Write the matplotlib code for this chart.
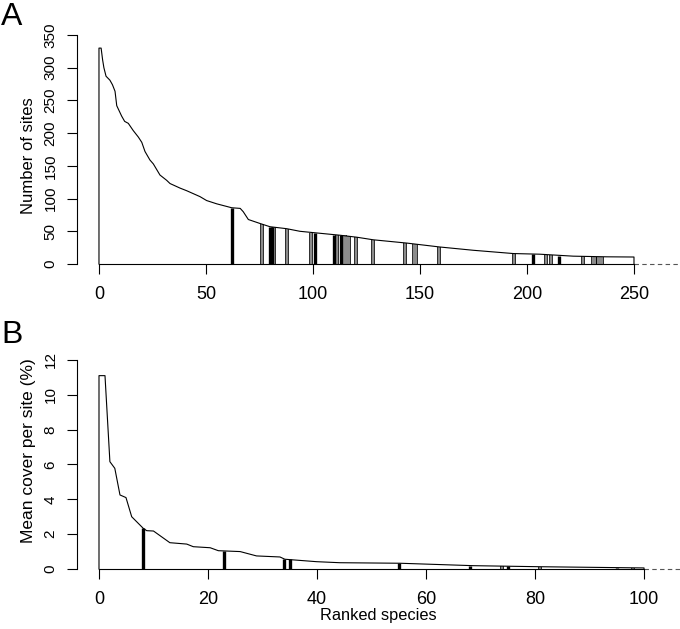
import numpy as np
import matplotlib
matplotlib.use("Agg")
import matplotlib.pyplot as plt

plt.rcParams['font.family'] = ['Liberation Sans', 'DejaVu Sans']

# panel A: number of sites per ranked species (read at knots)
rank_a = [0, 1, 1.7, 2.3, 3.3, 5.1, 6.3, 7.5, 8.3, 10.6, 12, 13.7, 16, 18.4,
          20, 21.5, 23.8, 25.4, 28.5, 31.6, 33.2, 37.9, 41, 47.2, 50.3, 55,
          62, 66, 67.4, 69.8, 75.2, 79.9, 87.7, 93.9, 100.1, 112.6, 120.4,
          128.2, 143.8, 159.3, 174.9, 193.6, 206, 221.6, 237.2, 250]
sites_a = [330, 330, 312, 300, 287, 281, 274, 264, 242, 226, 218, 215, 204, 194,
           186, 172, 159, 153, 136, 128, 123, 116, 112, 103, 97, 92,
           86, 85, 80, 68, 62, 57, 54, 50, 48, 44, 41,
           37, 32, 26, 21, 16, 15, 12, 11, 10.7]

# highlighted species in panel A
black_a = [62, 80, 81, 101, 110, 113, 203, 215]
black_a_h = [86, 57, 57, 48, 45, 44, 15, 13]
grey_a = [76, 82, 88, 99, 111, 114, 115, 116, 117, 120, 128, 143, 147, 148,
          159, 194, 209, 211, 226, 231, 232, 233, 234, 235]
grey_a_h = [61, 56, 54, 48, 45, 44, 44, 43, 43, 41, 37, 32, 31, 31,
            26, 16, 14, 14, 12, 11, 11, 11, 11, 11]

# panel B: mean cover per site
rank_b = [0, 1.1, 2.0, 2.9, 3.85, 4.95, 6.0, 8.1, 8.75, 10, 13, 16.1, 17.3,
          20.4, 21.9, 25.9, 28.9, 33.2, 34.1, 39.9, 44.2, 55.2, 68.7, 80.9, 100]
cover_b = [11.1, 11.1, 6.16, 5.78, 4.25, 4.1, 3.0, 2.34, 2.2, 2.18, 1.51, 1.43,
           1.28, 1.22, 1.05, 1.0, 0.75, 0.69, 0.56, 0.42, 0.36, 0.33, 0.19,
           0.13, 0.06]

black_b = [8, 23, 34, 35, 55, 68, 75, 95]
black_b_h = [2.34, 1.02, 0.56, 0.55, 0.33, 0.2, 0.16, 0.08]
grey_b = [74, 81, 98]
grey_b_h = [0.17, 0.13, 0.07]


def draw_panel(ax, rank, vals, bx, bh, gx, gh, xmax, ymax, yticks, xticks, ylabel):
    ax.plot(np.r_[rank[0], rank, rank[-1]], np.r_[0, vals, 0],
            color='black', lw=0.8, zorder=3)
    ax.vlines(gx, 0, gh, color='black', lw=2.6, zorder=2)
    ax.vlines(gx, 0, gh, color='#a8a8a8', lw=1.2, zorder=2)
    ax.vlines(bx, 0, bh, color='black', lw=2.4, zorder=2)
    ax.plot([rank[-1], ax.get_xlim()[1]], [0, 0], color='#555555',
            lw=0.8, ls=(0, (4, 3)), zorder=1)
    for s in ['top', 'right']:
        ax.spines[s].set_visible(False)
    ax.spines['bottom'].set_position(('data', 0))
    ax.spines['bottom'].set_bounds(0, xmax)
    ax.spines['left'].set_bounds(0, ymax)
    for s in ['bottom', 'left']:
        ax.spines[s].set_linewidth(0.8)
    ax.set_xticks(xticks)
    ax.set_yticks(yticks)
    ax.tick_params(direction='out', length=7, width=0.8)
    ax.tick_params(axis='x', labelsize=13, pad=9)
    ax.tick_params(axis='y', labelsize=11, pad=7, labelrotation=90)
    for lab in ax.get_yticklabels():
        lab.set_va('center')


fig = plt.figure(figsize=(6.8, 6.29), dpi=100)

ax1 = fig.add_axes([0.1132, 0.5657, 0.8868, 0.3932])
ax1.set_xlim(-10.28, 271.5)
ax1.set_ylim(-14, 364)
draw_panel(ax1, rank_a, sites_a, black_a, black_a_h, grey_a, grey_a_h,
           250, 350, range(0, 351, 50), range(0, 251, 50), 'Number of sites')
ax1.set_ylabel('Number of sites', fontsize=12)
ax1.yaxis.set_label_coords(-0.068, 0.475)

ax2 = fig.add_axes([0.1132, 0.08156, 0.8868, 0.36])
ax2.set_xlim(-4.04, 106.6)
ax2.set_ylim(-0.5, 12.5)
draw_panel(ax2, rank_b, cover_b, black_b, black_b_h, grey_b, grey_b_h,
           100, 12, range(0, 13, 2), range(0, 101, 20), 'Mean cover per site (%)')
ax2.set_ylabel('Mean cover per site (%)', fontsize=12.5)
ax2.yaxis.set_label_coords(-0.068, 0.56)
ax2.set_xlabel('Ranked species', fontsize=11.8, labelpad=0)

fig.text(1 / 680, 1 - 2 / 629, 'A', fontsize=23, va='top', ha='left')
fig.text(1 / 680, 1 - 320 / 629, 'B', fontsize=23, va='top', ha='left')

fig.savefig('out.png', dpi=100)
